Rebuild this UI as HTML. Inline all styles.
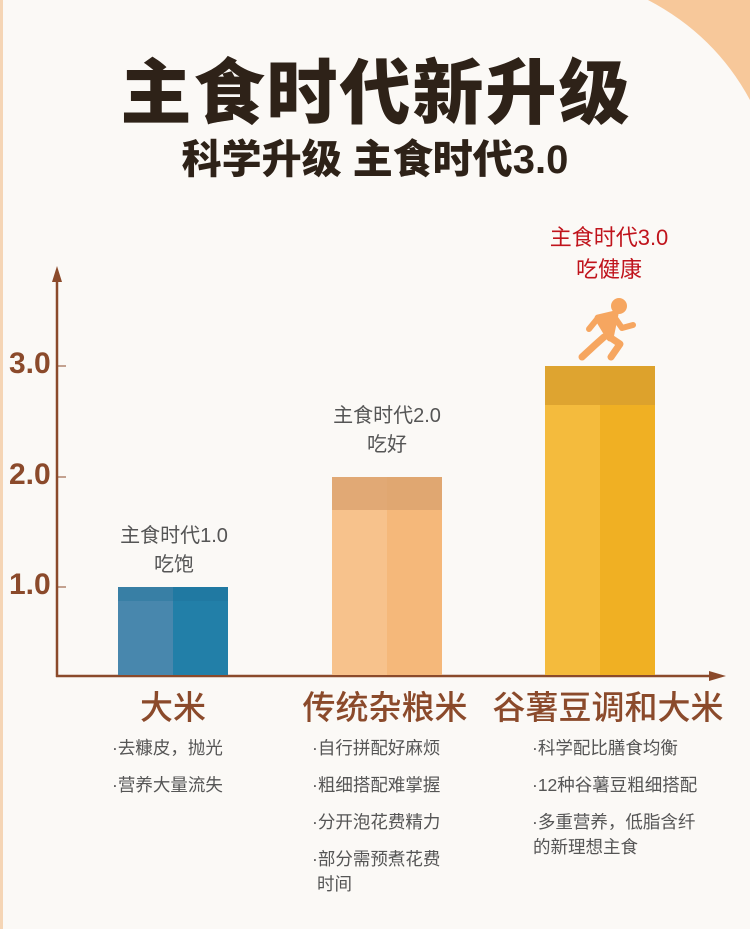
<!DOCTYPE html>
<html><head><meta charset="utf-8"><style>
html,body{margin:0;width:750px;height:929px;overflow:hidden}
body{background:#fbf9f6;position:relative;font-family:"Liberation Sans","Noto Sans CJK SC",sans-serif}
.a{position:absolute;white-space:nowrap}
.c{transform:translateX(-50%);text-align:center}
.lab{font-size:20px;color:#555;line-height:29px}
.cat{font-size:33px;color:#8b4a2b;font-weight:500}
.bl{font-size:17.5px;color:#555;line-height:37px}
.tk{font-size:30px;color:#8b4a2b;font-weight:700}
</style></head><body>
<svg class="a" style="left:0;top:0" width="750" height="929">
<path d="M648,0 Q715,35 750,100 L750,0 Z" fill="#f7c89a"/>
<rect x="0" y="0" width="3" height="929" fill="#f5d5b5"/>
<line x1="57" y1="272" x2="57" y2="677" stroke="#8b4a2b" stroke-width="2.5"/>
<polygon points="57,266 52,282 62,282" fill="#8b4a2b"/>
<line x1="56" y1="676" x2="716" y2="676" stroke="#8b4a2b" stroke-width="2.5"/>
<polygon points="726,676 709,671 709,681" fill="#8b4a2b"/>
<line x1="57" y1="366" x2="66" y2="366" stroke="#8b4a2b"/>
<line x1="57" y1="477" x2="66" y2="477" stroke="#8b4a2b"/>
<line x1="57" y1="587" x2="66" y2="587" stroke="#8b4a2b"/>
<rect x="118" y="587" width="55" height="88" fill="#4887ad"/><rect x="173" y="587" width="55" height="88" fill="#227fa8"/>
<rect x="118" y="587" width="110" height="14" fill="#1d6f98" opacity=".35"/>
<rect x="332" y="477" width="55" height="198" fill="#f7c28c"/><rect x="387" y="477" width="55" height="198" fill="#f5b87a"/>
<rect x="332" y="477" width="110" height="33" fill="#dba36f" opacity=".8"/>
<rect x="545" y="366" width="55" height="309" fill="#f4bb3d"/><rect x="600" y="366" width="55" height="309" fill="#f0b023"/>
<rect x="545" y="366" width="110" height="39" fill="#d9a02e" opacity=".85"/>
<g fill="#f6a660" stroke="#f6a660" stroke-linecap="round" stroke-linejoin="round">
<circle cx="619" cy="306" r="8" stroke="none"/>
<path d="M598 318 L615 314 L610 338 Z" stroke-width="7"/>
<path d="M615 318 L622 328 L633 325" fill="none" stroke-width="6"/>
<path d="M598 318 L589 329" fill="none" stroke-width="6"/>
<path d="M608 336 L620 344 L611 357" fill="none" stroke-width="7"/>
<path d="M604 337 L595 345 L582 357" fill="none" stroke-width="7"/>
</g>
</svg>
<div class="a c" style="left:376px;top:50px;font-size:71px;font-weight:900;color:#2e2218;letter-spacing:2px;line-height:90px">主食时代新升级</div>
<div class="a c" style="left:375px;top:134px;font-size:40px;font-weight:900;color:#2e2218;line-height:52px">科学升级 主食时代3.0</div>
<div class="a tk" style="left:9px;top:347px">3.0</div>
<div class="a tk" style="left:9px;top:458px">2.0</div>
<div class="a tk" style="left:9px;top:568px">1.0</div>
<div class="a c lab" style="left:174px;top:522px">主食时代1.0<br>吃饱</div>
<div class="a c lab" style="left:387px;top:402px">主食时代2.0<br>吃好</div>
<div class="a c lab" style="left:609px;top:222px;color:#c0141c;font-size:22px;line-height:32px">主食时代3.0<br>吃健康</div>
<div class="a c cat" style="left:173px;top:681px">大米</div>
<div class="a c cat" style="left:385px;top:681px">传统杂粮米</div>
<div class="a c cat" style="left:608px;top:681px">谷薯豆调和大米</div>
<div class="a bl" style="left:112px;top:730px">·去糠皮，抛光<br>·营养大量流失</div>
<div class="a bl" style="left:312px;top:730px">·自行拼配好麻烦<br>·粗细搭配难掌握<br>·分开泡花费精力<br>·部分需预煮花费</div>
<div class="a bl" style="left:317px;top:870px;line-height:28px">时间</div>
<div class="a bl" style="left:532px;top:730px">·科学配比膳食均衡<br>·12种谷薯豆粗细搭配<br>·多重营养，低脂含纤</div>
<div class="a bl" style="left:533px;top:833px;line-height:28px">的新理想主食</div>
</body></html>
